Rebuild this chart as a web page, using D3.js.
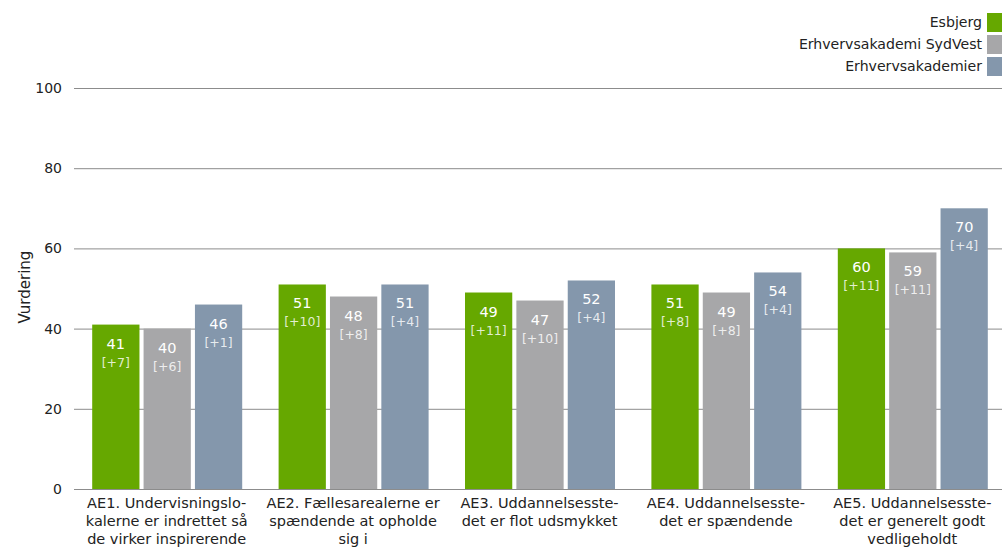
<!DOCTYPE html>
<html>
<head>
<meta charset="utf-8">
<script src="https://cdn.jsdelivr.net/npm/d3@7"></script>
<style>
  html, body { margin: 0; padding: 0; background: #fff; }
  svg { display: block; font-family: "DejaVu Sans", Verdana, sans-serif; }
</style>
</head>
<body>
<svg id="chart" width="1002" height="554"></svg>
<script>
// Survey items (category labels, pre-wrapped)
const categories = ["AE1", "AE2", "AE3", "AE4", "AE5"];
const categoryLines = [
  ["AE1. Undervisningslo-", "kalerne er indrettet så", "de virker inspirerende"],
  ["AE2. Fællesarealerne er", "spændende at opholde", "sig i"],
  ["AE3. Uddannelsesste-", "det er flot udsmykket"],
  ["AE4. Uddannelsesste-", "det er spændende"],
  ["AE5. Uddannelsesste-", "det er generelt godt", "vedligeholdt"]
];

// Series
const seriesNames = ["Esbjerg", "Erhvervsakademi SydVest", "Erhvervsakademier"];
const esbjerg       = [41, 51, 49, 51, 60];
const sydvest       = [40, 48, 47, 49, 59];
const akademier     = [46, 51, 52, 54, 70];
const esbjergDiff   = [7, 10, 11, 8, 11];
const sydvestDiff   = [6, 8, 10, 8, 11];
const akademierDiff = [1, 4, 4, 4, 4];

const yTicks = [0, 20, 40, 60, 80, 100];
const colors = ["#66a800", "#a7a7a9", "#8497ac"];

const values = [esbjerg, sydvest, akademier];
const diffs = [esbjergDiff, sydvestDiff, akademierDiff];

const svg = d3.select("#chart");
const margin = { left: 74, right: 1006, top: 88, bottom: 489 };

const x0 = d3.scaleBand().domain(categories).range([margin.left, margin.right]).padding(0);
const x1 = d3.scaleBand().domain(seriesNames).range([0, 150]).paddingInner(0.08);
const y = d3.scaleLinear().domain([0, 100]).range([margin.bottom, margin.top]);

// Gridlines and y axis
const yAxis = d3.axisLeft(y).tickValues(yTicks).tickSize(-(1002 - margin.left)).tickPadding(12);
const gy = svg.append("g").attr("transform", `translate(${margin.left},0)`).call(yAxis);
gy.select(".domain").remove();
gy.selectAll(".tick line").attr("stroke", "#8c8c8c").attr("stroke-width", 1);
gy.selectAll(".tick text")
  .attr("fill", "#222")
  .style("font-size", "14px")
  .style("font-family", "DejaVu Sans, Verdana, sans-serif");

svg.append("text")
  .attr("transform", "translate(30,287) rotate(-90)")
  .attr("text-anchor", "middle")
  .attr("fill", "#222")
  .style("font-size", "15px")
  .text("Vurdering");

// Bars
const groups = svg.append("g").selectAll("g")
  .data(categories)
  .join("g")
  .attr("transform", d => `translate(${x0(d) + (x0.bandwidth() - 150) / 2},0)`);

groups.each(function(cat, i) {
  const g = d3.select(this);
  seriesNames.forEach((s, k) => {
    const v = values[k][i];
    const bx = x1(s);
    const bw = x1.bandwidth();
    g.append("rect")
      .attr("x", bx)
      .attr("y", y(v))
      .attr("width", bw)
      .attr("height", y(0) - y(v))
      .attr("fill", colors[k]);
    g.append("text")
      .attr("x", bx + bw / 2)
      .attr("y", y(v) + 24)
      .attr("text-anchor", "middle")
      .attr("fill", "#fff")
      .style("font-size", "14.5px")
      .text(d3.format(".0f")(v));
    g.append("text")
      .attr("x", bx + bw / 2)
      .attr("y", y(v) + 42)
      .attr("text-anchor", "middle")
      .attr("fill", "#fff")
      .attr("fill-opacity", 0.82)
      .style("font-size", "12.5px")
      .text(`[+${diffs[k][i]}]`);
  });
});

// Category labels
categories.forEach((cat, i) => {
  const t = svg.append("text")
    .attr("text-anchor", "middle")
    .attr("fill", "#222")
    .style("font-size", "14.5px");
  categoryLines[i].forEach((line, j) => {
    t.append("tspan")
      .attr("x", x0(cat) + x0.bandwidth() / 2 - 0.5)
      .attr("y", 508 + j * 18)
      .text(line);
  });
});

// Legend
const legend = svg.append("g");
seriesNames.forEach((s, k) => {
  const ly = 13 + k * 22;
  legend.append("rect")
    .attr("x", 987).attr("y", ly)
    .attr("width", 15).attr("height", 19)
    .attr("fill", colors[k]);
  legend.append("text")
    .attr("x", 982).attr("y", ly + 14)
    .attr("text-anchor", "end")
    .attr("fill", "#222")
    .style("font-size", "14.1px")
    .text(s);
});
</script>
</body>
</html>
